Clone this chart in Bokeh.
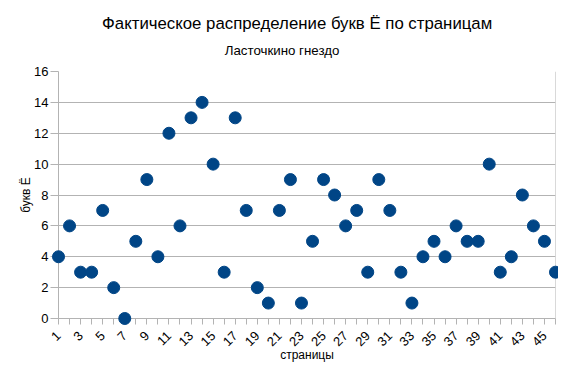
import math
from bokeh.plotting import figure
from bokeh.models import Range1d, FixedTicker, ColumnDataSource, Span
from bokeh.core.properties import value
from bokeh.embed import file_html
from bokeh.resources import INLINE

pages = list(range(1, 47))
counts = [4, 6, 3, 3, 7, 2, 0, 5, 9, 4, 12, 6, 13, 14, 10, 3, 13, 7, 2, 1,
          7, 9, 1, 5, 9, 8, 6, 7, 3, 9, 7, 3, 1, 4, 5, 4, 6, 5, 5, 10,
          3, 4, 8, 6, 5, 3]
y_ticks = list(range(0, 17, 2))
title_text = "Фактическое распределение букв Ё по страницам"
subtitle_text = "Ласточкино гнездо"
x_label = "страницы"
y_label = "букв Ё"

FONT = "Liberation Sans"
GRAY = "#b3b3b3"

p = figure(width=558, height=365, output_backend="svg", toolbar_location=None,
           x_range=Range1d(1, 46), y_range=Range1d(0, 16),
           min_border_left=58, min_border_right=3, min_border_top=71,
           min_border_bottom=46)
p.outline_line_color = None

# titles placed in the top border (overlay level, not clipped)
p.text(x=[22.61], y=[19.12], text=[title_text], text_font=value(FONT),
       text_font_size="16.8px", text_color="#000000", text_align="center",
       text_baseline="alphabetic", level="overlay")
p.text(x=[21.24], y=[17.36], text=[subtitle_text], text_font=value(FONT),
       text_font_size="13.3px", text_color="#000000", text_align="center",
       text_baseline="alphabetic", level="overlay")

src = ColumnDataSource(dict(x=pages, y=counts))
p.scatter("x", "y", source=src, size=12, fill_color="#004586",
          line_color="#004586", level="overlay")

# axes
p.xaxis.ticker = FixedTicker(ticks=pages)
p.xaxis.major_label_overrides = {i: ("" if i % 2 == 0 else str(i)) for i in pages}
p.xaxis.major_label_orientation = math.pi / 4
p.yaxis.ticker = FixedTicker(ticks=y_ticks)
for ax in (p.xaxis[0], p.yaxis[0]):
    ax.axis_line_color = GRAY
    ax.major_tick_line_color = GRAY
    ax.minor_tick_line_color = None
    ax.major_tick_in = 0
    ax.major_label_text_font = FONT
    ax.major_label_text_font_size = "13px"
    ax.major_label_text_color = "#000000"
    ax.axis_label_text_font = FONT
    ax.axis_label_text_font_size = "12px"
    ax.axis_label_text_font_style = "normal"
    ax.axis_label_text_color = "#000000"
p.xaxis.major_tick_out = 6
p.yaxis.major_tick_out = 8
p.xaxis.major_label_standoff = 9
p.yaxis.major_label_standoff = 2
p.xaxis.axis_label = x_label
p.yaxis.axis_label = y_label
p.xaxis.axis_label_standoff = -5
p.xaxis.axis_label_text_line_height = 1.0
p.yaxis.axis_label_standoff = -2

p.xgrid.grid_line_color = None
p.ygrid.grid_line_color = GRAY
p.ygrid.ticker = FixedTicker(ticks=y_ticks)

# right border of plot area
p.add_layout(Span(location=46, dimension="height", line_color=GRAY, line_width=1))

open("out.html", "w").write(file_html(p, INLINE))
